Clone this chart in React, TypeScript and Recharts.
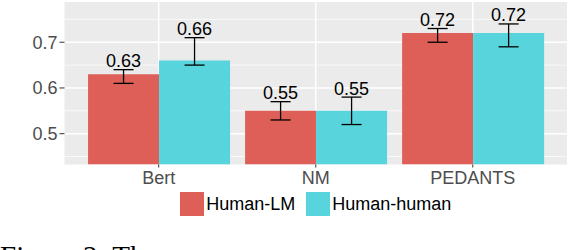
import React from 'react';
import { BarChart, Bar, XAxis, YAxis, CartesianGrid, ErrorBar } from 'recharts';

// values
const categories = ['Bert', 'NM', 'PEDANTS'];
const lmValues = [0.63, 0.55, 0.72];
const lmLow = [0.61, 0.53, 0.7];
const lmHigh = [0.64, 0.57, 0.73];
const humanValues = [0.66, 0.55, 0.72];
const humanLow = [0.65, 0.52, 0.69];
const humanHigh = [0.71, 0.58, 0.74];

const seriesNames = ['Human-LM', 'Human-human'];
const seriesColors = ['#DD5F58', '#57D4DC'];

const yTicks = [0.5, 0.6, 0.7];
const yMinorTicks = [0.45, 0.55, 0.65, 0.75];
const yDomain = [0.4326, 0.788];

const captionText = 'Figure 2: The';

const FONT = '"Liberation Sans", Arial, Helvetica, sans-serif';

const data = categories.map((name, i) => ({
  name,
  lm: lmValues[i],
  lmErr: [lmValues[i] - lmLow[i], lmHigh[i] - lmValues[i]],
  human: humanValues[i],
  humanErr: [humanValues[i] - humanLow[i], humanHigh[i] - humanValues[i]],
}));

// value label sitting just above the upper error whisker
function makeLabel(values: number[], highs: number[]) {
  return (props: any) => {
    const { x, y, width, height, index } = props;
    const v = values[index];
    const pxPerUnit = height / (v - yDomain[0]);
    const top = y - (highs[index] - v) * pxPerUnit;
    return (
      <text
        key={`lbl-${index}`}
        x={x + width / 2}
        y={top - 2.5}
        textAnchor="middle"
        fontSize={18}
        fontFamily={FONT}
        fill="#000"
      >
        {v.toFixed(2)}
      </text>
    );
  };
}

export default function App() {
  return (
    <div
      style={{
        position: 'absolute',
        left: 0,
        top: 0,
        width: 568,
        height: 250,
        overflow: 'hidden',
        background: '#fff',
      }}
    >
      <BarChart
        width={568}
        height={250}
        data={data}
        margin={{ top: 2, right: 1, left: 0, bottom: 0 }}
        barCategoryGap="5%"
        barGap={0}
      >
        <CartesianGrid
          fill="#EBEBEB"
          stroke="#FFFFFF"
          strokeWidth={0.7}
          horizontalValues={yMinorTicks}
          vertical={false}
        />
        <CartesianGrid
          stroke="#FFFFFF"
          strokeWidth={1.4}
          horizontalValues={yTicks}
          verticalValues={categories}
        />
        <XAxis
          dataKey="name"
          height={85.5}
          padding={{ left: 15.7, right: 15.7 }}
          axisLine={false}
          tickLine={{ stroke: '#333333', strokeWidth: 1 }}
          tickSize={3}
          tickMargin={3.5}
          tick={{ fill: '#4D4D4D', fontSize: 18, fontFamily: FONT }}
        />
        <YAxis
          type="number"
          width={64.5}
          domain={yDomain}
          allowDataOverflow
          ticks={yTicks}
          tickFormatter={(v: number) => v.toFixed(1)}
          axisLine={false}
          tickLine={{ stroke: '#333333', strokeWidth: 1 }}
          tickSize={5}
          tickMargin={2}
          tick={{ fill: '#4D4D4D', fontSize: 18, fontFamily: FONT }}
        />
        <Bar
          dataKey="lm"
          name={seriesNames[0]}
          fill={seriesColors[0]}
          isAnimationActive={false}
          label={makeLabel(lmValues, lmHigh)}
        >
          <ErrorBar dataKey="lmErr" width={10} stroke="#000" strokeWidth={1.3} isAnimationActive={false} />
        </Bar>
        <Bar
          dataKey="human"
          name={seriesNames[1]}
          fill={seriesColors[1]}
          isAnimationActive={false}
          label={makeLabel(humanValues, humanHigh)}
        >
          <ErrorBar dataKey="humanErr" width={10} stroke="#000" strokeWidth={1.3} isAnimationActive={false} />
        </Bar>
      </BarChart>

      {/* legend under the x axis, centred on the panel */}
      <div
        style={{
          position: 'absolute',
          left: 64.5,
          width: 502.5,
          top: 191.7,
          height: 24,
          display: 'flex',
          justifyContent: 'center',
          alignItems: 'center',
          fontFamily: FONT,
          fontSize: 18,
          color: '#000',
        }}
      >
        {seriesNames.map((n, i) => (
          <div
            key={n}
            style={{ display: 'flex', alignItems: 'center', marginLeft: i === 0 ? 0 : 11 }}
          >
            <span
              style={{ width: 24, height: 24, background: seriesColors[i], marginRight: 2, display: 'inline-block' }}
            />
            <span style={{ lineHeight: '24px' }}>{n}</span>
          </div>
        ))}
      </div>

      {/* paper caption, cut off by the bottom of the frame as in the source */}
      <svg
        width={568}
        height={250}
        style={{ position: 'absolute', left: 0, top: 0, pointerEvents: 'none' }}
      >
        <text
          x={0}
          y={266}
          fontFamily='"Liberation Serif", "Times New Roman", serif'
          fontSize={29}
          fill="#000"
        >
          {captionText}
        </text>
      </svg>
    </div>
  );
}
